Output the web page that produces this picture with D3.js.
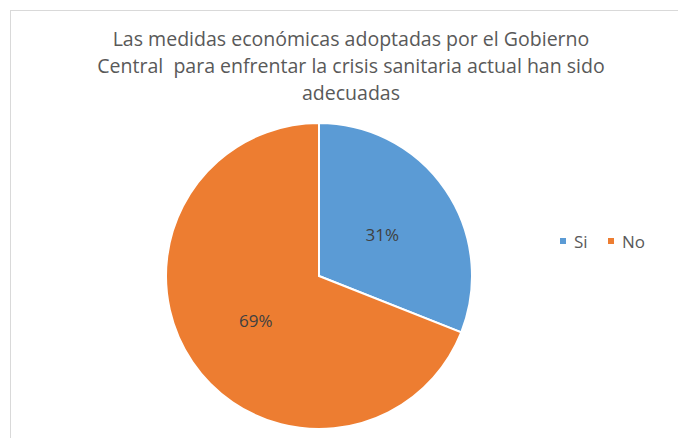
<!DOCTYPE html>
<html><head><meta charset="utf-8">
<script src="https://cdn.jsdelivr.net/npm/d3@7"></script>
<style>body{margin:0;background:#fff}svg{display:block}</style>
</head><body>
<svg id="c" width="678" height="438"></svg>
<script>
const categories = ["Si", "No"];
const values = [31, 69];
const colors = ["#5B9BD5", "#ED7D31"];
const titleLines = ["Las medidas económicas adoptadas por el Gobierno", "Central  para enfrentar la crisis sanitaria actual han sido", "adecuadas"];

const svg = d3.select("#c");
const font = "Open Sans, Liberation Sans, sans-serif";
svg.append("rect").attr("x", 10.5).attr("y", 10.5).attr("width", 680).attr("height", 440)
  .attr("fill", "#fff").attr("stroke", "#d9d9d9");

const title = svg.append("g").selectAll("text").data(titleLines).join("text")
  .attr("x", 351).attr("y", (d, i) => 46 + i * 27)
  .attr("text-anchor", "middle").attr("font-family", font).attr("font-size", 19)
  .attr("fill", "#595959").style("white-space", "pre").text(d => d);
// fit first line width to the reference (~477px)
const w0 = title.node().getComputedTextLength();
const fs = Math.max(15, Math.min(21, 19 * 477 / w0));
title.attr("font-size", fs);

const cx = 319, cy = 276, r = 153;
const pie = d3.pie().sort(null).value(d => d.v);
const data = pie(categories.map((c, i) => ({c, v: values[i], col: colors[i]})));
const arc = d3.arc().innerRadius(0).outerRadius(r);
const g = svg.append("g").attr("transform", `translate(${cx},${cy})`);
g.selectAll("path").data(data).join("path").attr("d", arc)
  .attr("fill", d => d.data.col).attr("stroke", "#fff").attr("stroke-width", 2);
const lab = d3.arc().innerRadius(r * 0.5).outerRadius(r * 0.5);
const total = d3.sum(values);
g.selectAll("text").data(data).join("text")
  .attr("transform", d => `translate(${lab.centroid(d)})`)
  .attr("text-anchor", "middle").attr("dy", "0.45em")
  .attr("font-family", font).attr("font-size", 17).attr("fill", "#404040")
  .text(d => Math.round(d.data.v / total * 100) + "%");

const leg = svg.append("g");
const lx = [560, 608];
categories.forEach((c, i) => {
  leg.append("rect").attr("x", lx[i]).attr("y", 238).attr("width", 6).attr("height", 6).attr("fill", colors[i]);
  leg.append("text").attr("x", lx[i] + 14).attr("y", 248)
    .attr("font-family", font).attr("font-size", 17).attr("fill", "#595959").text(c);
});
</script>
</body></html>
